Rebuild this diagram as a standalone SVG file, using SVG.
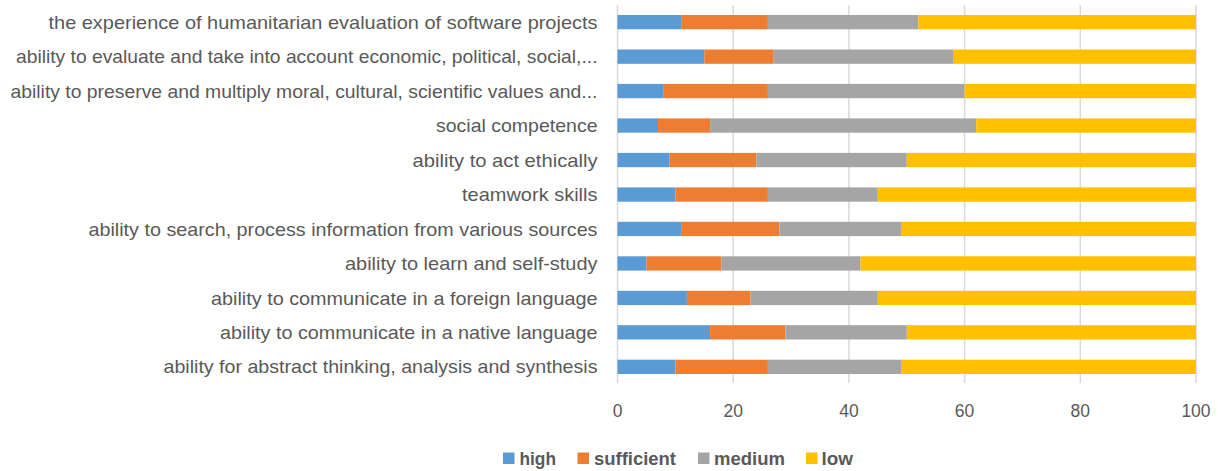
<svg xmlns="http://www.w3.org/2000/svg" width="1218" height="471" viewBox="0 0 1218 471">
<style>
.grid{stroke:#d9d9d9;stroke-width:1.5;fill:none}
.lab{font-family:"Liberation Sans",Arial,sans-serif;font-size:18.5px;fill:#595959;text-anchor:end}
.tick{font-family:"Liberation Sans",Arial,sans-serif;font-size:17.5px;fill:#595959;text-anchor:middle}
.leg{font-family:"Liberation Sans",Arial,sans-serif;font-size:18px;font-weight:bold;fill:#595959}
.h{fill:#5B9BD5}.s{fill:#ED7D31}.m{fill:#A5A5A5}.l{fill:#FFC000}
</style>
<rect width="1218" height="471" fill="#ffffff"/>
<g id="gridlines">
<line class="grid" x1="617.5" y1="5" x2="617.5" y2="383"/>
<line class="grid" x1="733.2" y1="5" x2="733.2" y2="383"/>
<line class="grid" x1="848.9" y1="5" x2="848.9" y2="383"/>
<line class="grid" x1="964.6" y1="5" x2="964.6" y2="383"/>
<line class="grid" x1="1080.3" y1="5" x2="1080.3" y2="383"/>
<line class="grid" x1="1196" y1="5" x2="1196" y2="383"/>
</g>
<g id="ticks">
<text class="tick" x="617.5" y="417">0</text>
<text class="tick" x="733.2" y="417">20</text>
<text class="tick" x="848.9" y="417">40</text>
<text class="tick" x="964.6" y="417">60</text>
<text class="tick" x="1080.3" y="417">80</text>
<text class="tick" x="1196" y="417">100</text>
</g>
<g id="labels">
<text class="lab" x="597.5" y="28.7" textLength="549" lengthAdjust="spacingAndGlyphs">the experience of humanitarian evaluation of software projects</text>
<text class="lab" x="597.5" y="63.1" textLength="581.5" lengthAdjust="spacingAndGlyphs">ability to evaluate and take into account economic, political, social,...</text>
<text class="lab" x="597.5" y="97.6" textLength="587" lengthAdjust="spacingAndGlyphs">ability to preserve and multiply moral, cultural, scientific values and...</text>
<text class="lab" x="597.5" y="132.1" textLength="161.5" lengthAdjust="spacingAndGlyphs">social competence</text>
<text class="lab" x="597.5" y="166.6" textLength="185" lengthAdjust="spacingAndGlyphs">ability to act ethically</text>
<text class="lab" x="597.5" y="201.1" textLength="135.5" lengthAdjust="spacingAndGlyphs">teamwork skills</text>
<text class="lab" x="597.5" y="235.5" textLength="509" lengthAdjust="spacingAndGlyphs">ability to search, process information from various sources</text>
<text class="lab" x="597.5" y="270" textLength="252.5" lengthAdjust="spacingAndGlyphs">ability to learn and self-study</text>
<text class="lab" x="597.5" y="304.5" textLength="386.5" lengthAdjust="spacingAndGlyphs">ability to communicate in a foreign language</text>
<text class="lab" x="597.5" y="338.9" textLength="377.5" lengthAdjust="spacingAndGlyphs">ability to communicate in a native language</text>
<text class="lab" x="597.5" y="373.4" textLength="434" lengthAdjust="spacingAndGlyphs">ability for abstract thinking, analysis and synthesis</text>
</g>
<g id="bars">
<g id="row1"><rect class="h" x="617.5" y="15" width="63.6" height="14.3"/><rect class="s" x="681.1" y="15" width="86.8" height="14.3"/><rect class="m" x="767.9" y="15" width="150.4" height="14.3"/><rect class="l" x="918.3" y="15" width="277.7" height="14.3"/></g>
<g id="row2"><rect class="h" x="617.5" y="49.5" width="86.8" height="14.3"/><rect class="s" x="704.3" y="49.5" width="69.4" height="14.3"/><rect class="m" x="773.7" y="49.5" width="179.3" height="14.3"/><rect class="l" x="953" y="49.5" width="243" height="14.3"/></g>
<g id="row3"><rect class="h" x="617.5" y="83.9" width="46.3" height="14.3"/><rect class="s" x="663.8" y="83.9" width="104.1" height="14.3"/><rect class="m" x="767.9" y="83.9" width="196.7" height="14.3"/><rect class="l" x="964.6" y="83.9" width="231.4" height="14.3"/></g>
<g id="row4"><rect class="h" x="617.5" y="118.4" width="40.5" height="14.3"/><rect class="s" x="658" y="118.4" width="52.1" height="14.3"/><rect class="m" x="710.1" y="118.4" width="266.1" height="14.3"/><rect class="l" x="976.2" y="118.4" width="219.8" height="14.3"/></g>
<g id="row5"><rect class="h" x="617.5" y="152.9" width="52.1" height="14.3"/><rect class="s" x="669.6" y="152.9" width="86.7" height="14.3"/><rect class="m" x="756.3" y="152.9" width="150.5" height="14.3"/><rect class="l" x="906.8" y="152.9" width="289.2" height="14.3"/></g>
<g id="row6"><rect class="h" x="617.5" y="187.4" width="57.9" height="14.3"/><rect class="s" x="675.4" y="187.4" width="92.5" height="14.3"/><rect class="m" x="767.9" y="187.4" width="109.9" height="14.3"/><rect class="l" x="877.8" y="187.4" width="318.2" height="14.3"/></g>
<g id="row7"><rect class="h" x="617.5" y="221.8" width="63.6" height="14.3"/><rect class="s" x="681.1" y="221.8" width="98.4" height="14.3"/><rect class="m" x="779.5" y="221.8" width="121.5" height="14.3"/><rect class="l" x="901" y="221.8" width="295" height="14.3"/></g>
<g id="row8"><rect class="h" x="617.5" y="256.3" width="28.9" height="14.3"/><rect class="s" x="646.4" y="256.3" width="75.2" height="14.3"/><rect class="m" x="721.6" y="256.3" width="138.9" height="14.3"/><rect class="l" x="860.5" y="256.3" width="335.5" height="14.3"/></g>
<g id="row9"><rect class="h" x="617.5" y="290.8" width="69.4" height="14.3"/><rect class="s" x="686.9" y="290.8" width="63.7" height="14.3"/><rect class="m" x="750.6" y="290.8" width="127.2" height="14.3"/><rect class="l" x="877.8" y="290.8" width="318.2" height="14.3"/></g>
<g id="row10"><rect class="h" x="617.5" y="325.2" width="92.6" height="14.3"/><rect class="s" x="710.1" y="325.2" width="75.2" height="14.3"/><rect class="m" x="785.3" y="325.2" width="121.5" height="14.3"/><rect class="l" x="906.8" y="325.2" width="289.2" height="14.3"/></g>
<g id="row11"><rect class="h" x="617.5" y="359.7" width="57.9" height="14.3"/><rect class="s" x="675.4" y="359.7" width="92.5" height="14.3"/><rect class="m" x="767.9" y="359.7" width="133.1" height="14.3"/><rect class="l" x="901" y="359.7" width="295" height="14.3"/></g>
</g>
<g id="legend">
<rect class="h" x="503" y="452.5" width="11.5" height="11.5"/><text class="leg" x="519.5" y="464.5" textLength="36.5" lengthAdjust="spacingAndGlyphs">high</text>
<rect class="s" x="577.5" y="452.5" width="11.5" height="11.5"/><text class="leg" x="594" y="464.5" textLength="82" lengthAdjust="spacingAndGlyphs">sufficient</text>
<rect class="m" x="698" y="452.5" width="11.5" height="11.5"/><text class="leg" x="714" y="464.5" textLength="71" lengthAdjust="spacingAndGlyphs">medium</text>
<rect class="l" x="806" y="452.5" width="11.5" height="11.5"/><text class="leg" x="821.5" y="464.5" textLength="31.5" lengthAdjust="spacingAndGlyphs">low</text>
</g>
</svg>
